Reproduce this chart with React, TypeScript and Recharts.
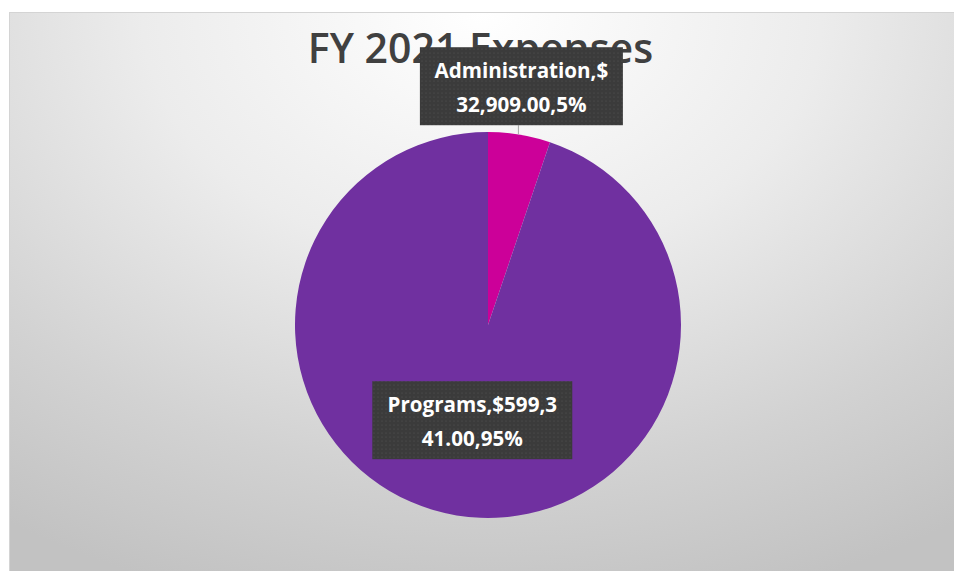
import React from "react";
import { PieChart, Pie, Cell } from "recharts";

const categories = ["Administration", "Programs"];
const amounts = [32909.0, 599341.0];
const amountLabels = ["$\u00a032,909.00", "$599,341.00"];
const percentLabels = ["5%", "95%"];
const labelLines: string[][] = [
  ["Administration,$", "32,909.00,5%"],
  ["Programs,$599,3", "41.00,95%"],
];
const colors = ["#CC0099", "#7030A0"];
const title = "FY 2021 Expenses";

const data = categories.map((name, i) => ({
  name,
  value: amounts[i],
  amount: amountLabels[i],
  pct: percentLabels[i],
}));

const W = 945;
const H = 559;
const RAD = Math.PI / 180;

const renderLabel = (props: any) => {
  const { cx, cy, midAngle, outerRadius, index } = props;
  const r = index === 0 ? outerRadius + 49 : outerRadius * 0.5;
  const x = cx + r * Math.cos(-midAngle * RAD) - (index === 0 ? 6 : 0);
  const y = cy + r * Math.sin(-midAngle * RAD);
  const bw = index === 0 ? 203 : 200;
  const bh = 78;
  const lines = labelLines[index];
  let leader = null;
  if (index === 0) {
    const lx = x - 3;
    const ey = cy - Math.sqrt(outerRadius * outerRadius - (lx - cx) * (lx - cx));
    leader = <line x1={lx} y1={y + bh / 2} x2={lx} y2={ey} stroke="#a6a6a6" strokeWidth={1} />;
  }
  return (
    <g key={`lbl-${index}`}>
      {leader}
      <rect x={x - bw / 2} y={y - bh / 2} width={bw} height={bh} fill="url(#dots)" />
      {lines.map((t, k) => (
        <text
          key={k}
          x={x}
          y={y - 16 + k * 34}
          textAnchor="middle"
          dominantBaseline="central"
          fill="#ffffff"
          fontFamily="'Open Sans', sans-serif"
          fontWeight={700}
          fontSize={20.6}
        >
          {t}
        </text>
      ))}
    </g>
  );
};

export default function App() {
  return (
    <div
      style={{
        position: "absolute",
        left: 9,
        top: 12,
        width: W,
        height: H,
        boxSizing: "border-box",
        borderTop: "1px solid #d4d4d4",
        borderLeft: "1px solid #d4d4d4",
        background:
          "radial-gradient(ellipse 90% 110% at 50% 0%, #ffffff 0%, #ececec 40%, #d2d2d2 75%, #c2c2c2 100%)",
        overflow: "hidden",
      }}
    >
      <div
        style={{
          position: "absolute",
          left: -2,
          top: 6,
          width: W,
          textAlign: "center",
          fontFamily: "'Open Sans', sans-serif",
          fontSize: 41,
          fontWeight: 600,
          color: "#404040",
          lineHeight: "56px",
        }}
      >
        {title}
      </div>
      <div style={{ position: "absolute", left: -1, top: -1 }}>
        <PieChart width={W} height={H}>
          <defs>
            <pattern id="dots" width="4" height="4" patternUnits="userSpaceOnUse">
              <rect width="4" height="4" fill="#3b3b3b" />
              <circle cx="1" cy="1" r="0.6" fill="#555555" />
            </pattern>
          </defs>
          <Pie
            data={data}
            dataKey="value"
            nameKey="name"
            cx={474}
            cy={308}
            outerRadius={193}
            startAngle={90}
            endAngle={-270}
            stroke="none"
            label={renderLabel}
            labelLine={false}
            isAnimationActive={false}
          >
            {data.map((d, i) => (
              <Cell key={d.name} fill={colors[i]} />
            ))}
          </Pie>
        </PieChart>
      </div>
    </div>
  );
}
